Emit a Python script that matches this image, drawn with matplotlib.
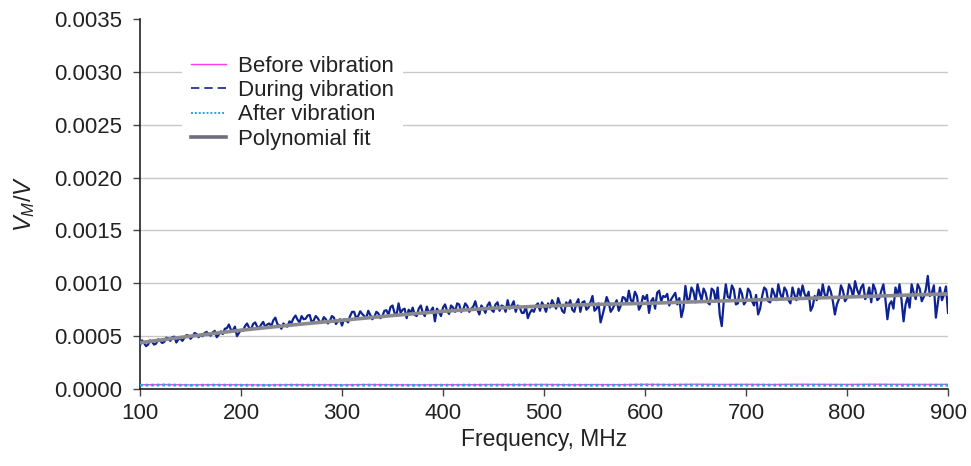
import numpy as np
import matplotlib
matplotlib.use("Agg")
import matplotlib.pyplot as plt
from matplotlib.lines import Line2D

plt.rcParams['font.family'] = ['Liberation Sans', 'DejaVu Sans']
plt.rcParams['mathtext.fontset'] = 'custom'
plt.rcParams['mathtext.rm'] = 'Liberation Sans'
plt.rcParams['mathtext.it'] = 'Liberation Sans:italic'

### DATA (values in units of 1e-4)

# during vibration, 100..900 MHz every 4 MHz
freq_during = list(range(100, 901, 4))
during_e4 = [
    4.15, 4.35, 4.2, 4.45, 4.3, 4.55, 4.45, 4.8, 4.9, 4.4,
    4.75, 4.85, 5.05, 4.95, 5.2, 5.1, 5.3, 5.15, 5.35, 4.9,
    5.45, 5.7, 6.1, 5.55, 5.0,
    5.6, 5.95, 5.8, 6.15, 5.9, 6.1, 5.85, 6.2, 6.5, 6.15,
    5.7, 6.0, 6.4, 6.7, 6.55, 6.9, 6.65, 7.0, 6.5, 6.7,
    6.3, 6.6, 6.45, 6.75, 6.4,
    6.0, 6.5, 6.9, 7.3, 6.9, 7.1, 6.7, 7.0, 6.8, 7.15,
    6.9, 7.45, 7.75, 7.2, 8.1, 7.5, 6.7, 7.2, 7.0, 7.6,
    7.2, 7.8, 7.4, 6.4, 7.3,
    7.7, 7.4, 7.9, 7.3, 8.0, 7.5, 7.85, 7.6, 8.3, 7.05,
    7.6, 7.9, 7.5, 8.0, 7.4, 7.8, 8.4, 7.9, 7.3, 7.7,
    7.2, 6.7, 7.5, 7.9, 7.4,
    7.8, 8.1, 8.4, 7.6, 8.0, 7.2, 7.9, 7.5, 8.1, 7.3,
    8.3, 7.7, 8.8, 7.6, 6.3, 7.8, 8.2, 7.6, 8.4, 7.9,
    8.6, 9.3, 8.2, 8.8, 7.9,
    8.5, 7.2, 8.6, 9.1, 8.3, 8.7, 7.9, 8.8, 8.0, 6.8,
    9.75, 8.5, 9.2, 9.9, 8.4, 9.1, 8.0, 9.3, 9.6, 5.95,
    9.9, 8.6, 9.4, 8.1, 9.0,
    8.3, 9.2, 7.9, 7.05, 8.8, 9.4, 8.2, 9.0, 9.9, 8.5,
    9.3, 8.1, 8.9, 9.5, 9.8, 8.6, 7.4, 8.8, 9.4, 9.9,
    8.7, 9.2, 7.05, 8.5, 9.3,
    8.6, 9.5, 10.2, 8.9, 9.9, 8.8, 8.2, 9.4, 8.6, 9.9,
    6.6, 8.3, 9.6, 9.9, 6.4, 8.7, 9.9, 8.5, 9.5, 8.7,
    10.7, 9.1, 6.75, 9.6, 8.9, 7.2,
]

# during vibration, in-between samples 102..898 MHz every 4 MHz
freq_during_mid = list(range(102, 899, 4))
during_mid_e4 = [
    4.6, 4.05, 4.6, 4.2, 4.7, 4.35, 4.85, 4.55, 4.95, 4.7,
    4.55, 5.1, 4.75, 5.3, 4.9, 5.0, 5.4, 5.05, 5.5, 5.15,
    5.2, 5.75, 5.6, 5.9, 5.3,
    5.5, 6.2, 5.65, 6.3, 5.75, 6.35, 6.1, 5.95, 6.75, 6.0,
    6.2, 5.9, 6.25, 6.95, 6.3, 6.6, 6.95, 6.3, 6.9, 6.35,
    6.8, 6.2, 6.9, 6.15, 6.6,
    6.6, 6.3, 7.3, 6.7, 7.35, 6.9, 7.4, 6.6, 7.3, 6.7,
    7.4, 7.0, 7.9, 7.0, 7.2, 7.6, 7.5, 7.7, 6.9, 7.9,
    6.9, 7.2, 7.7, 7.6, 6.9,
    8.0, 7.1, 7.7, 8.1, 7.3, 8.1, 7.3, 7.8, 7.5, 7.9,
    7.2, 8.2, 7.3, 8.2, 7.9, 7.3, 7.6, 8.3, 7.9, 7.2,
    7.8, 7.2, 7.3, 8.1, 8.2,
    7.3, 7.7, 8.0, 8.6, 7.4, 8.2, 8.4, 7.3, 8.5, 8.2,
    7.5, 8.2, 7.4, 8.1, 7.0, 8.7, 7.3, 8.0, 7.4, 8.7,
    8.1, 8.4, 9.2, 7.5, 8.8,
    8.9, 8.3, 7.6, 9.3, 8.8, 9.0, 8.5, 9.1, 8.6, 7.6,
    8.4, 9.6, 8.2, 9.1, 9.5, 8.2, 9.5, 8.3, 7.0, 8.3,
    8.7, 9.8, 8.0, 9.5, 8.0,
    9.5, 8.3, 8.9, 7.6, 9.6, 8.3, 9.5, 8.4, 9.0, 9.6,
    8.4, 9.6, 8.4, 8.8, 9.0, 9.2, 7.8, 8.4, 8.6, 8.9,
    9.7, 8.3, 8.0, 9.8, 8.3,
    9.9, 8.7, 9.4, 9.6, 8.5, 9.6, 9.9, 8.4, 9.3, 8.5,
    8.0, 7.6, 8.8, 8.4, 8.0, 7.7, 9.1, 9.9, 8.3, 9.4,
    8.8, 9.8, 8.2, 8.4, 9.7,
]

# polynomial fit
freq_fit = [100, 150, 200, 250, 300, 350, 400, 450, 500, 550, 600, 650, 700, 750, 800, 850, 900]
fit_e4 = [4.38, 5.0, 5.56, 6.05, 6.5, 6.95, 7.35, 7.65, 7.85, 8.0, 8.1, 8.25, 8.4, 8.55, 8.7, 8.85, 9.0]

# before / after vibration, every 25 MHz
freq_flat = list(range(100, 901, 25))
before_e4 = [0.40, 0.42, 0.39, 0.41, 0.40, 0.38, 0.41, 0.40, 0.39, 0.42, 0.40, 0.39, 0.41,
             0.40, 0.42, 0.41, 0.43, 0.40, 0.42, 0.41, 0.44, 0.42, 0.45, 0.43, 0.44, 0.42,
             0.45, 0.44, 0.43, 0.45, 0.44, 0.43, 0.44]
after_e4 = [0.36, 0.38, 0.35, 0.37, 0.36, 0.35, 0.37, 0.36, 0.35, 0.37, 0.36, 0.35, 0.36,
            0.37, 0.36, 0.38, 0.36, 0.37, 0.35, 0.36, 0.38, 0.37, 0.36, 0.35, 0.36, 0.37,
            0.35, 0.36, 0.35, 0.36, 0.35, 0.36, 0.35]

yticks = [0.0, 0.0005, 0.0010, 0.0015, 0.0020, 0.0025, 0.0030, 0.0035]
xticks = [100, 200, 300, 400, 500, 600, 700, 800, 900]
labels = ["Before vibration", "During vibration", "After vibration", "Polynomial fit"]

### COLOURS
c_before = "#ff3cf0"
c_during = "#0f2390"
c_after = "#22aadd"
c_fit = "#8a8a8e"
c_fit_leg = "#6f6c7c"

### PLOT
scale = 1e-4

# merge the two sampled grids of the noisy trace
f_all = np.array(freq_during + freq_during_mid)
v_all = np.array(during_e4 + during_mid_e4)
order = np.argsort(f_all)

fig = plt.figure(figsize=(9.71, 4.66), dpi=100)
ax = fig.add_axes([140 / 971, 1 - 389 / 466, 808 / 971, 370 / 466])

ax.plot(freq_flat, np.array(before_e4) * scale, color=c_before, lw=1.0, zorder=3)
ax.plot(freq_flat, np.array(after_e4) * scale, color=c_after, lw=2.0, ls=(0, (1, 1)), zorder=3)
ax.plot(f_all[order], v_all[order] * scale, color=c_during, lw=1.6, zorder=4)
ax.plot(freq_fit, np.array(fit_e4) * scale, color=c_fit, lw=2.6, zorder=5)

ax.set_xlim(100, 900)
ax.set_ylim(0, 0.0035)
ax.set_xticks(xticks)
ax.set_yticks(yticks)
ax.set_yticklabels(["%.4f" % v for v in yticks])

ax.yaxis.grid(True, color="#c8c8c8", lw=1.0)
ax.set_axisbelow(True)
ax.get_ygridlines()[-1].set_visible(False)

for s in ["top", "right"]:
    ax.spines[s].set_visible(False)
for s in ["left", "bottom"]:
    ax.spines[s].set_color("#222222")
    ax.spines[s].set_linewidth(1.2)

ax.tick_params(axis="both", direction="out", length=5, width=1, color="#444444",
               labelsize=16, labelcolor="#222222")
ax.tick_params(axis="y", pad=8)
ax.tick_params(axis="x", pad=5)

ax.set_xlabel("Frequency, MHz", fontsize=16.5, color="#222222", labelpad=3)
ax.set_ylabel("$V_M/V$", fontsize=17, color="#222222", labelpad=12)

handles = [
    Line2D([], [], color=c_before, lw=1.0),
    Line2D([], [], color=c_during, lw=1.2, ls=(0, (5, 3))),
    Line2D([], [], color=c_after, lw=1.4, ls=(0, (1, 1))),
    Line2D([], [], color=c_fit_leg, lw=2.6),
]
leg = ax.legend(handles, labels, loc="upper left", bbox_to_anchor=(0.038, 0.955),
                fontsize=16, frameon=True, framealpha=1, edgecolor="none",
                facecolor="white", handlelength=1.6, handletextpad=0.55,
                labelspacing=0.15, borderpad=0.4)
for t in leg.get_texts():
    t.set_color("#222222")

fig.savefig("out.png", dpi=100)
